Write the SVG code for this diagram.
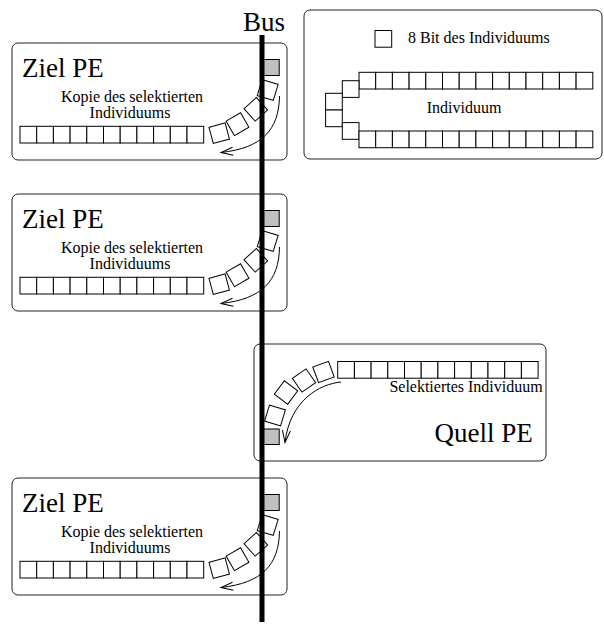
<svg xmlns="http://www.w3.org/2000/svg" xmlns:xlink="http://www.w3.org/1999/xlink" width="604" height="625" viewBox="0 0 604 625" font-family="'Liberation Serif', 'DejaVu Serif', serif">
<style>
.box{fill:#fff;stroke:#222;stroke-width:1}
.cell{fill:#fff;stroke:#000;stroke-width:1}
.gray{fill:#c0c0c0;stroke:#000;stroke-width:1}
text{font-family:'Liberation Serif','DejaVu Serif',serif;fill:#000}
.big{font-size:27px}
.small{font-size:16px}
.arr{fill:none;stroke:#000;stroke-width:1;marker-end:url(#ah)}
.bus{stroke:#000;stroke-width:5}
</style>
<defs>
<rect id="c" class="cell" width="16.7" height="16.7"/>
<marker id="ah" markerUnits="userSpaceOnUse" markerWidth="14" markerHeight="10" refX="12" refY="5" orient="auto" overflow="visible">
<path d="M0,1 L12,5 L0,9" fill="none" stroke="#000" stroke-width="1"/>
</marker>
</defs>

<g id="legend">
<rect class="box" x="304" y="10" width="298" height="149" rx="6"/>
<use xlink:href="#c" x="375" y="30.5"/>
<text class="small" x="408" y="43" font-family="Liberation Serif, serif">8 Bit des Individuums</text>
<use xlink:href="#c" x="359" y="72.3"/><use xlink:href="#c" x="375.7" y="72.3"/><use xlink:href="#c" x="392.4" y="72.3"/><use xlink:href="#c" x="409.1" y="72.3"/><use xlink:href="#c" x="425.8" y="72.3"/><use xlink:href="#c" x="442.5" y="72.3"/><use xlink:href="#c" x="459.2" y="72.3"/><use xlink:href="#c" x="475.9" y="72.3"/><use xlink:href="#c" x="492.6" y="72.3"/><use xlink:href="#c" x="509.3" y="72.3"/><use xlink:href="#c" x="526" y="72.3"/><use xlink:href="#c" x="542.7" y="72.3"/><use xlink:href="#c" x="559.4" y="72.3"/><use xlink:href="#c" x="576.1" y="72.3"/>
<use xlink:href="#c" x="342.3" y="80.7"/>
<use xlink:href="#c" x="325.6" y="93.3"/>
<use xlink:href="#c" x="325.6" y="110"/>
<use xlink:href="#c" x="342.3" y="122.6"/>
<use xlink:href="#c" x="359" y="131"/><use xlink:href="#c" x="375.7" y="131"/><use xlink:href="#c" x="392.4" y="131"/><use xlink:href="#c" x="409.1" y="131"/><use xlink:href="#c" x="425.8" y="131"/><use xlink:href="#c" x="442.5" y="131"/><use xlink:href="#c" x="459.2" y="131"/><use xlink:href="#c" x="475.9" y="131"/><use xlink:href="#c" x="492.6" y="131"/><use xlink:href="#c" x="509.3" y="131"/><use xlink:href="#c" x="526" y="131"/><use xlink:href="#c" x="542.7" y="131"/><use xlink:href="#c" x="559.4" y="131"/><use xlink:href="#c" x="576.1" y="131"/>
<text class="small" x="464" y="113" text-anchor="middle">Individuum</text>
</g>

<g id="ziel1">
<rect class="box" x="12" y="43" width="275" height="117" rx="6"/>
<text class="big" x="22" y="77">Ziel PE</text>
<text class="small" x="132" y="101.5" text-anchor="middle">Kopie des selektierten</text>
<text class="small" x="130" y="118" text-anchor="middle">Individuums</text>
<use xlink:href="#c" x="20" y="126.3"/><use xlink:href="#c" x="36.7" y="126.3"/><use xlink:href="#c" x="53.4" y="126.3"/><use xlink:href="#c" x="70.1" y="126.3"/><use xlink:href="#c" x="86.8" y="126.3"/><use xlink:href="#c" x="103.5" y="126.3"/><use xlink:href="#c" x="120.2" y="126.3"/><use xlink:href="#c" x="136.9" y="126.3"/><use xlink:href="#c" x="153.6" y="126.3"/><use xlink:href="#c" x="170.3" y="126.3"/><use xlink:href="#c" x="187" y="126.3"/>
<use xlink:href="#c" transform="translate(219.2,133.2) rotate(-15) translate(-8.35,-8.35)"/>
<use xlink:href="#c" transform="translate(237.5,124.2) rotate(-30) translate(-8.35,-8.35)"/>
<use xlink:href="#c" transform="translate(255.8,109.3) rotate(48) translate(-8.35,-8.35)"/>
<use xlink:href="#c" transform="translate(267.7,90) rotate(17) translate(-8.35,-8.35)"/>
<rect class="gray" x="262.5" y="59.5" width="16.7" height="16"/>
<path class="arr" d="M279.5,96 C279,130 262,148 221,152.5"/>
</g>

<g id="ziel2" transform="translate(0,151)">
<rect class="box" x="12" y="43" width="275" height="117" rx="6"/>
<text class="big" x="22" y="77">Ziel PE</text>
<text class="small" x="132" y="101.5" text-anchor="middle">Kopie des selektierten</text>
<text class="small" x="130" y="118" text-anchor="middle">Individuums</text>
<use xlink:href="#c" x="20" y="126.3"/><use xlink:href="#c" x="36.7" y="126.3"/><use xlink:href="#c" x="53.4" y="126.3"/><use xlink:href="#c" x="70.1" y="126.3"/><use xlink:href="#c" x="86.8" y="126.3"/><use xlink:href="#c" x="103.5" y="126.3"/><use xlink:href="#c" x="120.2" y="126.3"/><use xlink:href="#c" x="136.9" y="126.3"/><use xlink:href="#c" x="153.6" y="126.3"/><use xlink:href="#c" x="170.3" y="126.3"/><use xlink:href="#c" x="187" y="126.3"/>
<use xlink:href="#c" transform="translate(219.2,133.2) rotate(-15) translate(-8.35,-8.35)"/>
<use xlink:href="#c" transform="translate(237.5,124.2) rotate(-30) translate(-8.35,-8.35)"/>
<use xlink:href="#c" transform="translate(255.8,109.3) rotate(48) translate(-8.35,-8.35)"/>
<use xlink:href="#c" transform="translate(267.7,90) rotate(17) translate(-8.35,-8.35)"/>
<rect class="gray" x="262.5" y="59.5" width="16.7" height="16"/>
<path class="arr" d="M279.5,96 C279,130 262,148 221,152.5"/>
</g>

<g id="quell">
<rect class="box" x="254" y="344" width="292" height="117" rx="6"/>
<use xlink:href="#c" x="337.7" y="361.5"/><use xlink:href="#c" x="354.4" y="361.5"/><use xlink:href="#c" x="371.1" y="361.5"/><use xlink:href="#c" x="387.8" y="361.5"/><use xlink:href="#c" x="404.5" y="361.5"/><use xlink:href="#c" x="421.2" y="361.5"/><use xlink:href="#c" x="437.9" y="361.5"/><use xlink:href="#c" x="454.6" y="361.5"/><use xlink:href="#c" x="471.3" y="361.5"/><use xlink:href="#c" x="488" y="361.5"/><use xlink:href="#c" x="504.7" y="361.5"/><use xlink:href="#c" x="521.4" y="361.5"/>
<text class="small" x="542.7" y="392.3" text-anchor="end">Selektiertes Individuum</text>
<text class="big" x="532.7" y="442.3" text-anchor="end">Quell PE</text>
<use xlink:href="#c" transform="translate(323.5,372) rotate(-20) translate(-8.35,-8.35)"/>
<use xlink:href="#c" transform="translate(304,380.5) rotate(-35) translate(-8.35,-8.35)"/>
<use xlink:href="#c" transform="translate(286,392.5) rotate(37) translate(-8.35,-8.35)"/>
<use xlink:href="#c" transform="translate(275,415.5) rotate(17) translate(-8.35,-8.35)"/>
<rect class="gray" x="262.5" y="429" width="16.7" height="15.5"/>
<path class="arr" d="M341,382 C320,384 290,400 285,442.5"/>
</g>

<g id="ziel3" transform="translate(0,435)">
<rect class="box" x="12" y="43" width="275" height="117" rx="6"/>
<text class="big" x="22" y="77">Ziel PE</text>
<text class="small" x="132" y="101.5" text-anchor="middle">Kopie des selektierten</text>
<text class="small" x="130" y="118" text-anchor="middle">Individuums</text>
<use xlink:href="#c" x="20" y="126.3"/><use xlink:href="#c" x="36.7" y="126.3"/><use xlink:href="#c" x="53.4" y="126.3"/><use xlink:href="#c" x="70.1" y="126.3"/><use xlink:href="#c" x="86.8" y="126.3"/><use xlink:href="#c" x="103.5" y="126.3"/><use xlink:href="#c" x="120.2" y="126.3"/><use xlink:href="#c" x="136.9" y="126.3"/><use xlink:href="#c" x="153.6" y="126.3"/><use xlink:href="#c" x="170.3" y="126.3"/><use xlink:href="#c" x="187" y="126.3"/>
<use xlink:href="#c" transform="translate(219.2,133.2) rotate(-15) translate(-8.35,-8.35)"/>
<use xlink:href="#c" transform="translate(237.5,124.2) rotate(-30) translate(-8.35,-8.35)"/>
<use xlink:href="#c" transform="translate(255.8,109.3) rotate(48) translate(-8.35,-8.35)"/>
<use xlink:href="#c" transform="translate(267.7,90) rotate(17) translate(-8.35,-8.35)"/>
<rect class="gray" x="262.5" y="59.5" width="16.7" height="16"/>
<path class="arr" d="M279.5,96 C279,130 262,148 221,152.5"/>
</g>

<g id="bus">
<line class="bus" x1="262" y1="35" x2="262" y2="622"/>
<text class="big" x="264" y="31" text-anchor="middle">Bus</text>
</g>
</svg>
